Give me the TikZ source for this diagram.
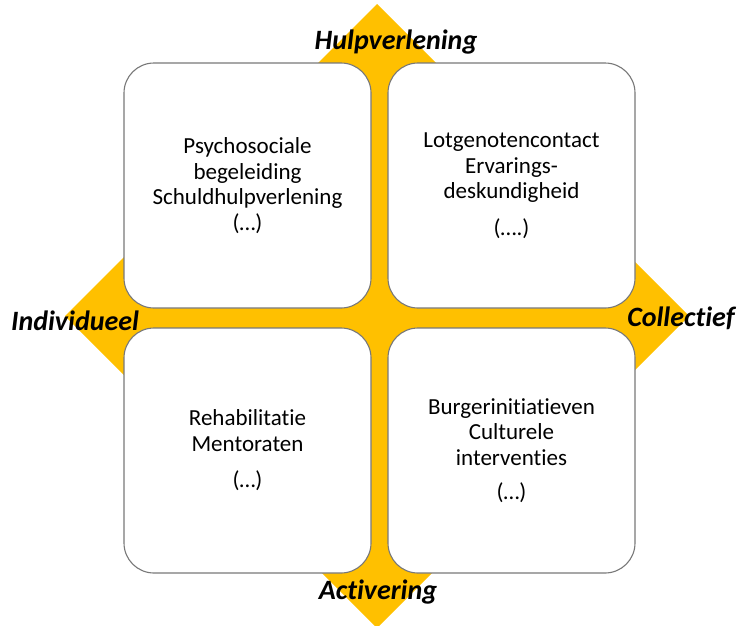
\documentclass[tikz,border=0pt]{standalone}
\usepackage{fontspec}
\setmainfont{Carlito}[Ligatures={NoCommon,NoRequired,NoContextual,NoDiscretionary}]
\definecolor{gold}{RGB}{255,192,0}
\definecolor{edge}{RGB}{120,120,120}
\tikzset{
  quad/.style={draw=edge, line width=1.1pt, fill=white, rounded corners=30pt,
    minimum width=247pt, minimum height=245pt, inner sep=0pt, align=center,
    font=\fontsize{23}{25.5}\selectfont},
  axislabel/.style={anchor=base, inner sep=0pt, font=\fontsize{28}{30}\selectfont\bfseries\itshape}
}
\begin{document}
\begin{tikzpicture}[x=1pt,y=-1pt]
\useasboundingbox (0,0) rectangle (738,625);
\fill[gold] (377,4) coordinate (dtop) -- (689,316) coordinate (dright) -- (377,628) coordinate (dbottom) -- (65,316) coordinate (dleft) -- cycle;
\node[quad] (tl) at (247.5,185.5) {Psychosociale\\begeleiding\\Schuldhulpverlening\\(…)};
\node[quad] (tr) at (511.5,185.5) {Lotgenotencontact\\Ervarings-\\deskundigheid\\[11pt](….)};
\node[quad] (bl) at (247.5,450.5) {Rehabilitatie\\Mentoraten\\[11pt](…)};
\node[quad] (br) at (511.5,450.5) {Burgerinitiatieven\\Culturele\\interventies\\[9pt](…)};
\node[axislabel] (hulp) at (396,49) {Hulpverlening};
\node[axislabel] (indiv) at (75,330) {Individueel};
\node[axislabel] (coll) at (681,326) {Collectief};
\node[axislabel] (act) at (378,599) {Activering};
\end{tikzpicture}
\end{document}
